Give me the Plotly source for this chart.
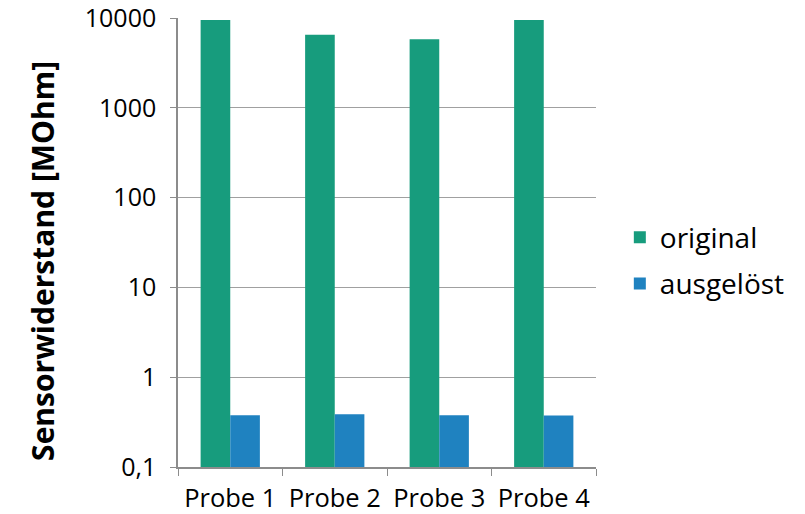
import plotly.graph_objects as go

categories = ["Probe 1", "Probe 2", "Probe 3", "Probe 4"]
original = [9500, 6500, 5800, 9500]
ausgeloest = [0.377, 0.387, 0.377, 0.374]
tick_vals = [0.1, 1, 10, 100, 1000, 10000]
tick_text = ["0,1", "1", "10", "100", "1000", "10000"]
y_title = "Sensorwiderstand [MOhm]"

FONT = "Open Sans"
fig = go.Figure()
fig.add_trace(go.Bar(name="original", x=categories, y=original, legendgroup="a",
                     marker=dict(color="#179C7D", line=dict(width=0))))
fig.add_trace(go.Bar(name="ausgelöst", x=categories, y=ausgeloest, legendgroup="b",
                     marker=dict(color="#1F82C0", line=dict(width=0))))

fig.update_layout(
    width=805, height=514,
    margin=dict(l=178, r=209, t=18, b=47, autoexpand=False),
    paper_bgcolor="white", plot_bgcolor="white",
    barmode="group", bargap=0.433, bargroupgap=0,
    font=dict(family=FONT, size=25, color="#000000"),
    legend=dict(x=1.057, xanchor="left", y=0.46, yanchor="middle",
                font=dict(family=FONT, size=28), tracegroupgap=7,
                itemwidth=30, bgcolor="rgba(0,0,0,0)"),
    showlegend=True,
    annotations=[dict(text="<b>" + y_title + "</b>", textangle=-90,
                      xref="paper", yref="paper", x=-0.323, y=0.459,
                      xanchor="center", yanchor="middle", showarrow=False,
                      font=dict(family=FONT, size=30, color="#000000"))],
)
fig.update_yaxes(
    type="log", range=[-1, 4.0008], tickvals=tick_vals, ticktext=tick_text,
    showgrid=True, gridcolor="#A0A0A0", gridwidth=1,
    showline=True, linecolor="#8C8C8C", linewidth=1.5,
    ticks="outside", ticklen=6, tickcolor="#8C8C8C",
    ticklabelstandoff=9, automargin=False, ticklabeloverflow="allow",
    tickfont=dict(family=FONT, size=25),
    zeroline=False,
)
fig.update_xaxes(
    showline=True, linecolor="#8C8C8C", linewidth=1.5,
    ticks="outside", ticklen=7, tickcolor="#8C8C8C", tickson="boundaries",
    tickfont=dict(family=FONT, size=25.5), ticklabelstandoff=8,
    showgrid=False, automargin=False,
)
fig.write_html("out.html", config={"displayModeBar": False},
               post_script="document.body.style.margin='0px';document.body.style.overflow='hidden';")
